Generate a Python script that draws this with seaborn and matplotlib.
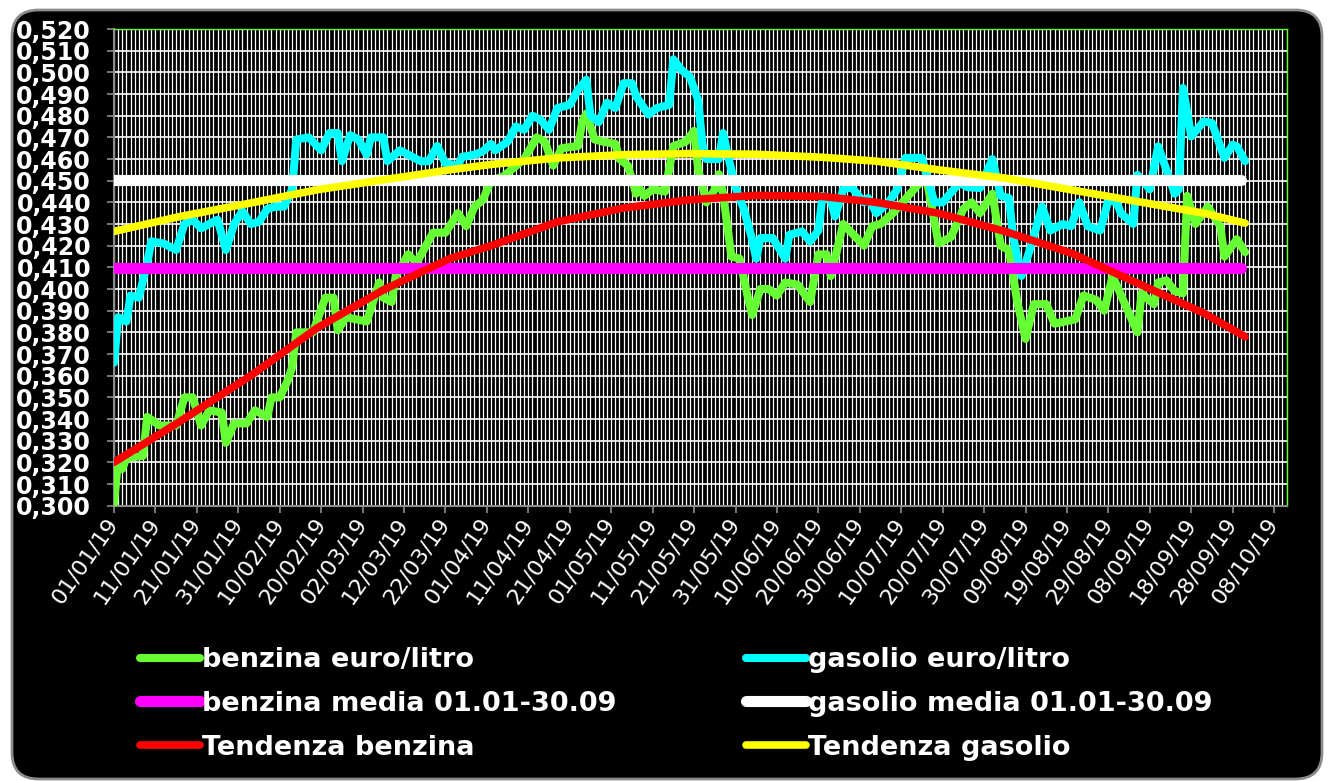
import pandas as pd
import seaborn as sns
import matplotlib.pyplot as plt
from matplotlib.patches import FancyBboxPatch
from matplotlib.ticker import FuncFormatter, MultipleLocator

inizio = pd.Timestamp("2019-01-01")

# giorni dal 01/01/19 e prezzi (euro/litro)
benzina_giorni = [0, 1, 2, 3, 7, 8, 11, 15, 17, 19, 21, 23, 26, 27, 29, 32, 34, 37, 38, 40,
                  42, 43, 44, 48, 51, 53, 54, 56, 61, 64, 65, 67, 68, 71, 73, 77, 80, 83, 85, 87,
                  89, 91, 94, 99, 102, 104, 106, 108, 112, 113, 114, 116, 118, 121, 122, 124, 126, 127, 128, 130,
                  133, 135, 138, 140, 141, 143, 145, 146, 147, 149, 151, 153, 154, 156, 158, 160, 162, 165, 168, 170,
                  172, 173, 176, 178, 181, 183, 185, 188, 194, 196, 199, 202, 205, 207, 209, 212, 214, 216, 218, 220,
                  222, 225, 227, 232, 234, 237, 239, 241, 244, 247, 248, 251, 252, 254, 256, 258, 259, 261, 264, 267,
                  268, 271, 273]
benzina_prezzo = [0.301, 0.321, 0.317, 0.322, 0.323, 0.341, 0.337, 0.337, 0.350, 0.350, 0.337, 0.344, 0.343, 0.329, 0.338, 0.338, 0.344, 0.341, 0.350, 0.350,
                  0.358, 0.364, 0.380, 0.380, 0.396, 0.396, 0.381, 0.387, 0.385, 0.403, 0.396, 0.394, 0.406, 0.416, 0.412, 0.426, 0.426, 0.435, 0.429, 0.438,
                  0.441, 0.450, 0.452, 0.460, 0.470, 0.468, 0.457, 0.465, 0.466, 0.477, 0.481, 0.469, 0.468, 0.467, 0.460, 0.457, 0.444, 0.446, 0.443, 0.446,
                  0.445, 0.466, 0.468, 0.473, 0.455, 0.440, 0.446, 0.453, 0.444, 0.415, 0.414, 0.396, 0.388, 0.400, 0.400, 0.397, 0.403, 0.402, 0.394, 0.416,
                  0.416, 0.406, 0.430, 0.426, 0.420, 0.429, 0.430, 0.435, 0.448, 0.452, 0.421, 0.424, 0.437, 0.440, 0.435, 0.444, 0.420, 0.418, 0.394, 0.377,
                  0.393, 0.393, 0.384, 0.386, 0.397, 0.395, 0.390, 0.406, 0.393, 0.380, 0.398, 0.393, 0.403, 0.404, 0.399, 0.398, 0.443, 0.430, 0.438, 0.429,
                  0.415, 0.423, 0.417]

gasolio_giorni = [0, 1, 3, 4, 6, 8, 9, 12, 15, 17, 19, 21, 25, 27, 29, 31, 33, 35, 37, 39,
                  41, 43, 44, 47, 50, 52, 54, 55, 57, 59, 61, 62, 65, 66, 69, 72, 74, 76, 78, 80,
                  83, 84, 87, 89, 91, 92, 95, 97, 99, 101, 103, 105, 107, 110, 112, 114, 115, 117, 119, 121,
                  123, 125, 126, 129, 131, 134, 135, 137, 139, 141, 142, 143, 146, 147, 148, 150, 152, 154, 155, 156,
                  159, 162, 163, 166, 168, 170, 171, 173, 174, 176, 178, 181, 182, 184, 187, 189, 191, 195, 198, 200,
                  204, 206, 209, 212, 214, 216, 217, 219, 221, 224, 226, 229, 231, 233, 235, 238, 240, 242, 243, 246,
                  247, 250, 252, 254, 256, 257, 258, 260, 263, 265, 268, 270, 271, 273]
gasolio_prezzo = [0.366, 0.387, 0.385, 0.397, 0.396, 0.412, 0.422, 0.421, 0.418, 0.430, 0.432, 0.428, 0.432, 0.418, 0.430, 0.436, 0.430, 0.431, 0.437, 0.438,
                  0.438, 0.446, 0.469, 0.470, 0.464, 0.472, 0.472, 0.459, 0.471, 0.469, 0.462, 0.470, 0.470, 0.459, 0.464, 0.461, 0.459, 0.459, 0.466, 0.458,
                  0.457, 0.461, 0.462, 0.4635, 0.467, 0.464, 0.468, 0.475, 0.4735, 0.480, 0.478, 0.4735, 0.4835, 0.485, 0.492, 0.4966, 0.480, 0.477, 0.486, 0.4835,
                  0.495, 0.495, 0.489, 0.4805, 0.4835, 0.485, 0.506, 0.501, 0.498, 0.487, 0.467, 0.460, 0.460, 0.472, 0.463, 0.447, 0.437, 0.423, 0.414, 0.4235,
                  0.4235, 0.414, 0.425, 0.4266, 0.422, 0.427, 0.443, 0.441, 0.4335, 0.446, 0.447, 0.440, 0.442, 0.435, 0.440, 0.446, 0.4605, 0.4605, 0.440, 0.440,
                  0.449, 0.447, 0.4466, 0.460, 0.443, 0.442, 0.424, 0.406, 0.418, 0.438, 0.427, 0.430, 0.429, 0.440, 0.429, 0.427, 0.441, 0.440, 0.435, 0.430,
                  0.4527, 0.446, 0.4658, 0.455, 0.444, 0.446, 0.4928, 0.4704, 0.4774, 0.4766, 0.4605, 0.4666, 0.4658, 0.459]

# linee di tendenza
tendenza_giorni = [0, 16, 33, 49, 65, 81, 91, 107, 123, 139, 155, 171, 184, 199, 215, 231, 247, 263, 273]
tendenza_benzina = [0.320, 0.339, 0.360, 0.382, 0.3996, 0.414, 0.420, 0.431, 0.4374, 0.4412,
                    0.4432, 0.4427, 0.440, 0.435, 0.4266, 0.4166, 0.4027, 0.3889, 0.378]
tendenza_gasolio = [0.4266, 0.4335, 0.4397, 0.4458, 0.4504, 0.455, 0.4575, 0.4605, 0.462, 0.4625,
                    0.4622, 0.4608, 0.459, 0.455, 0.4512, 0.4458, 0.4404, 0.435, 0.4304]

# medie 01.01-30.09
media_giorni = [0, 272]
media_benzina = 0.4095
media_gasolio = 0.4505

tick_giorni = list(range(0, 281, 10))


def date(giorni):
    return inizio + pd.to_timedelta(giorni, unit="D")


plt.rcParams["font.family"] = ["DejaVu Sans"]

fig = plt.figure(figsize=(13.29, 7.81), dpi=100)
fig.patch.set_facecolor("white")
fig.patches.append(FancyBboxPatch((12 / 1329, 1 - 779 / 781), 1310 / 1329, 769 / 781,
                                  boxstyle="round,pad=0,rounding_size=0.02", mutation_aspect=1329 / 781,
                                  transform=fig.transFigure, fc="black", ec="#8c8c8c", lw=2, zorder=-5))

ax = fig.add_axes([114 / 1329, 1 - 505.7 / 781, (1287 - 114) / 1329, (505.7 - 29) / 781])
ax.set_facecolor("black")

stile = dict(ax=ax, estimator=None, solid_capstyle="round", solid_joinstyle="round")
sns.lineplot(x=date(benzina_giorni), y=benzina_prezzo, color="#66ff33", lw=5.8,
             label="benzina euro/litro", zorder=3, **stile)
sns.lineplot(x=date(gasolio_giorni), y=gasolio_prezzo, color="#00ffff", lw=5.8,
             label="gasolio euro/litro", zorder=4, **stile)
sns.lineplot(x=date(media_giorni), y=[media_benzina] * 2, color="#ff00ff", lw=8,
             label="benzina media 01.01-30.09", zorder=5, **stile)
sns.lineplot(x=date(media_giorni), y=[media_gasolio] * 2, color="white", lw=8,
             label="gasolio media 01.01-30.09", zorder=6, **stile)
sns.lineplot(x=date(tendenza_giorni), y=tendenza_benzina, color="#ff0000", lw=5.5,
             label="Tendenza benzina", zorder=7, **stile)
sns.lineplot(x=date(tendenza_giorni), y=tendenza_gasolio, color="#ffff00", lw=5.5,
             label="Tendenza gasolio", zorder=8, **stile)

ax.set_xlim(inizio, inizio + pd.Timedelta(days=283.1))
ax.set_ylim(0.300, 0.520)
ax.yaxis.set_major_locator(MultipleLocator(0.010))
ax.yaxis.set_major_formatter(FuncFormatter(lambda v, p: f"{v:.3f}".replace(".", ",")))

tick_date = date(tick_giorni)
ax.set_xticks(tick_date)
ax.set_xticklabels([d.strftime("%d/%m/%y") for d in tick_date], rotation=55,
                   ha="right", va="center", rotation_mode="anchor")
ax.set_xticks(date(list(range(0, 284))), minor=True)

ax.grid(which="both", axis="x", color="white", lw=0.9)
ax.grid(which="major", axis="y", color="white", lw=1.2)
ax.set_axisbelow(True)

ax.tick_params(axis="x", which="major", length=5, width=1.2, color="#8c8c8c",
               labelcolor="white", labelsize=16, pad=5)
ax.tick_params(axis="x", which="minor", length=0)
ax.tick_params(axis="y", length=5, width=1.2, color="#8c8c8c", labelcolor="white",
               labelsize=17, pad=11.5)
for t in ax.get_yticklabels():
    t.set_fontweight("bold")

for lato in ["left", "bottom"]:
    ax.spines[lato].set_color("#8c8c8c")
    ax.spines[lato].set_linewidth(1.5)
for lato in ["top", "right"]:
    ax.spines[lato].set_color("#66ff33")
    ax.spines[lato].set_linewidth(1)
ax.set_xlabel("")
ax.set_ylabel("")

h, l = ax.get_legend_handles_labels()
ordine = [0, 2, 4, 1, 3, 5]
leg = ax.legend([h[i] for i in ordine], [l[i] for i in ordine], ncol=2,
                loc="upper left", bbox_to_anchor=(140 / 1329, 1 - 647 / 781),
                bbox_transform=fig.transFigure, frameon=False, borderpad=0, borderaxespad=0,
                handlelength=2.2, handletextpad=0.08, labelspacing=0.66, columnspacing=4.8,
                prop=dict(family="DejaVu Sans", weight="bold", size=19.5))
for t in leg.get_texts():
    t.set_color("white")

fig.savefig("out.png", dpi=100, facecolor=fig.get_facecolor())
